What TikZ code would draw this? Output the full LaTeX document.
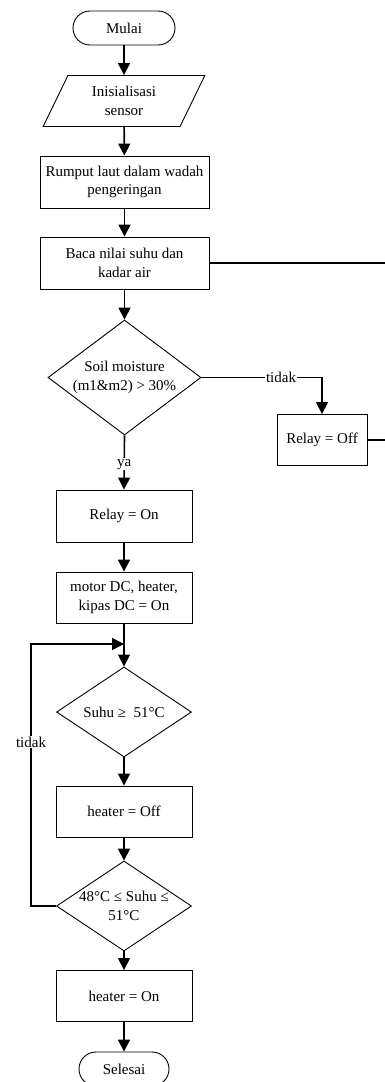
\documentclass[tikz,border=0pt]{standalone}
\usepackage{fontspec}
\setmainfont{Liberation Serif}
\usetikzlibrary{shapes.geometric,arrows.meta}
\begin{document}
\begin{tikzpicture}[x=1pt,y=-1pt,
  font=\fontsize{15}{18.5}\selectfont,
  procbox/.style={draw,line width=0.9pt,minimum height=51pt,align=center,inner sep=0pt},
  term/.style={draw,line width=0.9pt,rounded corners=17pt,minimum height=34pt,inner sep=0pt},
  iobox/.style={trapezium,trapezium left angle=64,trapezium right angle=116,trapezium stretches=true,
    draw,line width=0.9pt,minimum width=162pt,minimum height=51pt,align=center,inner sep=0pt},
  diam/.style={diamond,draw,line width=0.9pt,inner sep=0pt,align=center},
  arr/.style={line width=1.6pt,-{Triangle[length=12pt,width=12pt]}},
  conn/.style={line width=1.6pt},
  thinconn/.style={line width=1.2pt},
  lbl/.style={fill=white,inner sep=1pt}]
\useasboundingbox (0,0) rectangle (385,1082);

\node[term,minimum width=102pt] (mulai) at (124,28) {Mulai};
\node[iobox] (init) at (124,101) {Inisialisasi\\sensor};
\node[procbox,minimum width=169pt,minimum height=52pt] (rumput) at (124.5,182) {Rumput laut dalam wadah\\pengeringan};
\node[procbox,minimum width=169pt,minimum height=52pt] (baca) at (124.5,263) {Baca nilai suhu dan\\kadar air};
\node[diam,aspect=1.33,minimum width=153pt,minimum height=115pt] (d1) at (124.5,377.5) {Soil moisture\\(m1\&m2) > 30\%};
\node[procbox,minimum width=90pt] (roff) at (322,440) {Relay = Off};
\node[procbox,minimum width=136pt,minimum height=52pt] (ron) at (124,516) {Relay = On};
\node[procbox,minimum width=136pt] (motor) at (124,597.5) {motor DC, heater,\\kipas DC = On};
\node[diam,aspect=1.5,minimum width=135pt,minimum height=90pt] (d2) at (124,712) {Suhu ≥~ 51°C};
\node[procbox,minimum width=136pt] (hoff) at (124,811.5) {heater = Off};
\node[diam,aspect=1.5,inner sep=-6pt,minimum width=135pt,minimum height=90pt] (d3) at (124,906) {48°C ≤ Suhu ≤\\51°C};
\node[procbox,minimum width=136pt] (hon) at (124,996) {heater = On};
\node[term,minimum width=90pt] (sel) at (124,1069) {Selesai};

\coordinate (r1) at (385,263);
\coordinate (r2) at (385,440);
\coordinate (j) at (124,644);
\coordinate (lx) at (31,906);

\draw[arr] (mulai) -- (init);
\draw[arr] (init) -- (rumput);
\draw[arr] (rumput) -- (baca);
\draw[arr] (baca) -- (d1);
\draw[thinconn] (baca.east) -- (r1);
\draw[arr] (d1.east) -| node[lbl,pos=0.33]{tidak} (roff.north);
\draw[thinconn] (roff.east) -- (r2);
\draw[arr] (d1.south) -- node[lbl,pos=0.53]{ya} (ron.north);
\draw[arr] (ron) -- (motor);
\draw[arr] (motor.south) -- (d2.north);
\draw[arr] (d2) -- (hoff);
\draw[arr] (hoff) -- (d3);
\draw[arr] (d3) -- (hon);
\draw[arr] (hon) -- (sel);
\draw[arr] (d3.west) -- (lx) |- node[lbl,pos=0.313]{tidak} (j);
\end{tikzpicture}
\end{document}
